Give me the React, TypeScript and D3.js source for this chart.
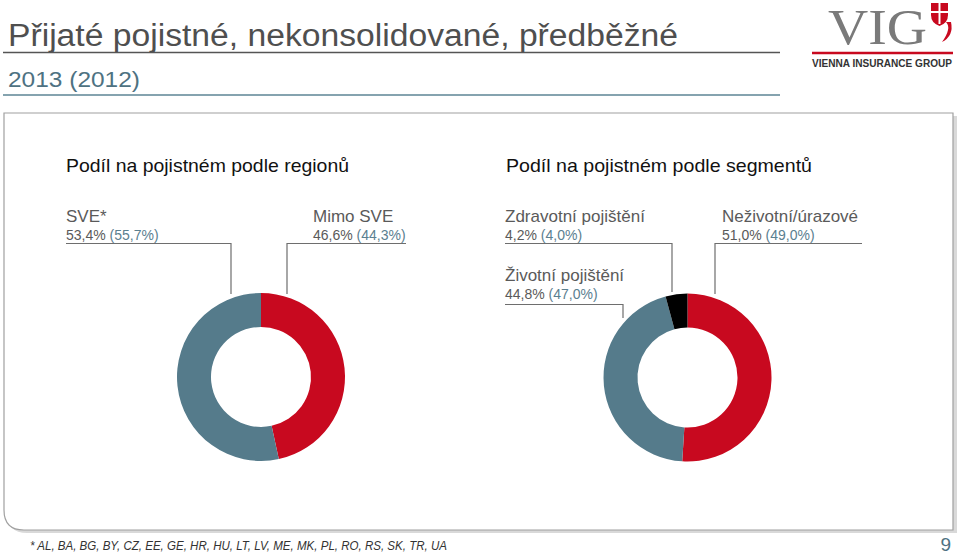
import React from "react";
import * as d3 from "d3";

const regionLabels = ["Mimo SVE", "SVE*"];
const regionValues = [46.6, 53.4];
const regionPrev = ["44,3%", "55,7%"];
const regionColors = ["#c8091f", "#557b8b"];

const segmentLabels = ["Neživotní/úrazové", "Životní pojištění", "Zdravotní pojištění"];
const segmentValues = [51.0, 44.8, 4.2];
const segmentPrev = ["49,0%", "47,0%", "4,0%"];
const segmentColors = ["#c8091f", "#557b8b", "#000000"];

const footnote = "* AL, BA, BG, BY, CZ, EE, GE, HR, HU, LT, LV, ME, MK, PL, RO, RS, SK, TR, UA";

const fmt = (v: number) => v.toFixed(1).replace(".", ",") + "%";

function Donut({ cx, cy, values, colors }: { cx: number; cy: number; values: number[]; colors: string[] }) {
  const pie = d3.pie<number>().sort(null).value((d) => d)(values);
  const arc = d3.arc<d3.PieArcDatum<number>>().innerRadius(50).outerRadius(84);
  return (
    <g transform={`translate(${cx},${cy})`}>
      {pie.map((p, i) => (
        <path key={i} d={arc(p) || ""} fill={colors[i]} />
      ))}
    </g>
  );
}

function Label({ x, y, name, value, prev }: { x: number; y: number; name: string; value: number; prev: string }) {
  return (
    <g>
      <text x={x} y={y} fontSize={17} fill="#5a5a5a">{name}</text>
      <text x={x} y={y + 18} fontSize={14} fill="#5a5a5a">
        {fmt(value)} <tspan fill="#5b8090">({prev})</tspan>
      </text>
    </g>
  );
}

export default function App() {
  const W = 959, H = 556;
  const lineColor = "#6e6e6e";
  return (
    <svg width={W} height={H} style={{ position: "absolute", left: 0, top: 0, fontFamily: "'Liberation Sans', Arial, sans-serif" }}>
      <rect width={W} height={H} fill="#fff" />
      {/* Title */}
      <text x={8} y={46} fontSize={31} fill="#4f4f4f" textLength={670} lengthAdjust="spacingAndGlyphs">Přijaté pojistné, nekonsolidované, předběžné</text>
      <line x1={3} x2={780} y1={52.5} y2={52.5} stroke="#555" strokeWidth={1.5} />
      <text x={8} y={87} fontSize={22} fill="#4e7282" textLength={132} lengthAdjust="spacingAndGlyphs">2013 (2012)</text>
      <line x1={3} x2={780} y1={95} y2={95} stroke="#5d8494" strokeWidth={1.5} />

      {/* Logo */}
      <g>
        <text x={828} y={44} fontSize={50} fill="#7a7a7a" fontFamily="'Liberation Serif', 'DejaVu Serif', serif" textLength={99} lengthAdjust="spacingAndGlyphs">VIG</text>
        <path d="M931,3 h17 v12 q0,8 -8.5,11 q-8.5,-3 -8.5,-11 z" fill="#c8091f" />
        <line x1={939.5} x2={939.5} y1={3} y2={24} stroke="#fff" strokeWidth={2} />
        <line x1={931} x2={948} y1={12} y2={12} stroke="#fff" strokeWidth={2} />
        <path d="M946,22 q6,6 -4,20 q12,-6 9,-20 z" fill="#c8091f" />
        <line x1={812} x2={953} y1={53} y2={53} stroke="#c8091f" strokeWidth={2.5} />
        <text x={812} y={67} fontSize={10.5} fontWeight="bold" fill="#333" textLength={140} lengthAdjust="spacingAndGlyphs">VIENNA INSURANCE GROUP</text>
      </g>

      {/* Frame with shadow */}
      <path d="M7,116 H957 V533 H27 Q7,533 7,513 Z" fill="#d9d9d9" />
      <path d="M4,113 H953 V530 H24 Q4,530 4,510 Z" fill="#fff" stroke="#a0a0a0" strokeWidth={1.2} />

      {/* Section titles */}
      <text x={66} y={172} fontSize={19} fill="#111" textLength={283} lengthAdjust="spacingAndGlyphs">Podíl na pojistném podle regionů</text>
      <text x={506} y={172} fontSize={19} fill="#111" textLength={306} lengthAdjust="spacingAndGlyphs">Podíl na pojistném podle segmentů</text>

      {/* Region labels */}
      <Label x={66} y={222} name={regionLabels[1]} value={regionValues[1]} prev={regionPrev[1]} />
      <Label x={313} y={222} name={regionLabels[0]} value={regionValues[0]} prev={regionPrev[0]} />
      <polyline points="66,243.5 231,243.5 231,294" fill="none" stroke={lineColor} strokeWidth={1.2} />
      <polyline points="406,243.5 287,243.5 287,294" fill="none" stroke={lineColor} strokeWidth={1.2} />

      {/* Segment labels */}
      <Label x={505} y={222} name={segmentLabels[2]} value={segmentValues[2]} prev={segmentPrev[2]} />
      <Label x={722} y={222} name={segmentLabels[0]} value={segmentValues[0]} prev={segmentPrev[0]} />
      <Label x={505} y={281} name={segmentLabels[1]} value={segmentValues[1]} prev={segmentPrev[1]} />
      <polyline points="505,243.5 672,243.5 672,292" fill="none" stroke={lineColor} strokeWidth={1.2} />
      <polyline points="862,243.5 715,243.5 715,294" fill="none" stroke={lineColor} strokeWidth={1.2} />
      <polyline points="505,304.5 623,304.5 623,318" fill="none" stroke={lineColor} strokeWidth={1.2} />

      <Donut cx={261} cy={377} values={regionValues} colors={regionColors} />
      <Donut cx={687.5} cy={377.5} values={segmentValues} colors={segmentColors} />

      {/* Footer */}
      <text x={30} y={550} fontSize={12} fontStyle="italic" fill="#333" textLength={417} lengthAdjust="spacingAndGlyphs">{footnote}</text>
      <text x={951} y={551} fontSize={19} fill="#4e7282" textAnchor="end">9</text>
    </svg>
  );
}
